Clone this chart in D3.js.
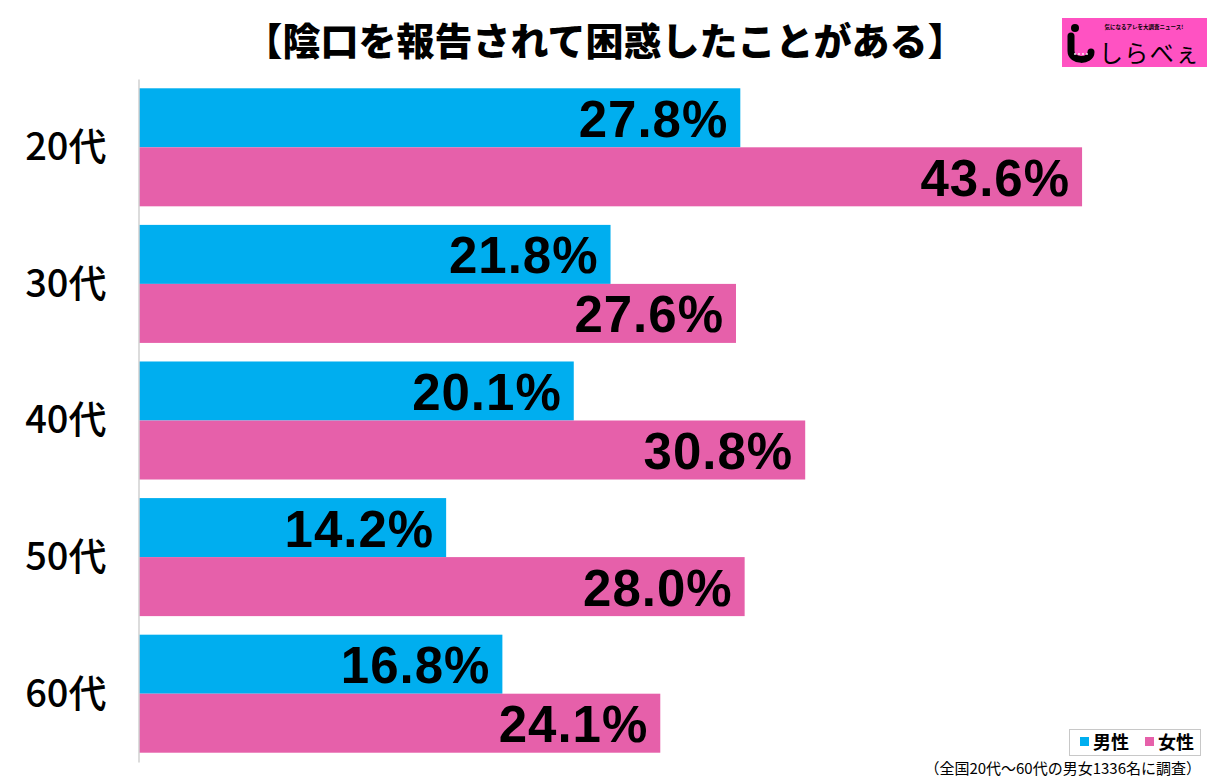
<!DOCTYPE html>
<html><head><meta charset="utf-8">
<script src="https://cdn.jsdelivr.net/npm/d3@7"></script>
<style>body{margin:0;background:#fff;}svg{display:block;}</style>
</head><body>
<svg id="c" width="1224" height="783"></svg>
<script>
const title = "【陰口を報告されて困惑したことがある】";
const categories = ["20代","30代","40代","50代","60代"];
const seriesNames = ["男性","女性"];
const maleValues = [27.8, 21.8, 20.1, 14.2, 16.8];
const femaleValues = [43.6, 27.6, 30.8, 28.0, 24.1];
const seriesColors = ["#00AEEF", "#E660AA"];
const footnote = "（全国20代～60代の男女1336名に調査）";

const svg = d3.select("#c");
const data = categories.map((c,i)=>({cat:c, vals:[maleValues[i], femaleValues[i]]}));

const x = d3.scaleLinear().domain([0,50]).range([139, 139 + 50*21.63]);
const y = d3.scaleBand().domain(categories).range([79, 762]).paddingInner(0.136).paddingOuter(0.068);
const ySub = d3.scaleBand().domain([0,1]).range([0, y.bandwidth()]);

// title
svg.append("text").attr("x", 605).attr("y", 55).attr("text-anchor","middle")
  .attr("font-family","'Noto Sans CJK JP'").attr("font-weight","900").attr("font-size",38)
  .attr("fill","#000").text(title);

// bars
const g = svg.append("g");
data.forEach(d=>{
  d.vals.forEach((v,j)=>{
    const top = y(d.cat) + ySub(j);
    g.append("rect").attr("x", x(0)).attr("y", top)
      .attr("width", x(v)-x(0)).attr("height", ySub.bandwidth())
      .attr("fill", seriesColors[j]);
    g.append("text").attr("x", x(v)-12).attr("y", top + ySub.bandwidth()/2 + 19)
      .attr("text-anchor","end").attr("font-family","'Liberation Sans', Arial, sans-serif")
      .attr("font-weight","bold").attr("font-size",51).attr("letter-spacing",1).attr("fill","#000")
      .text(v.toFixed(1) + "%");
  });
});

// axis
const yAxis = d3.axisLeft(y).tickSize(0).tickPadding(32);
const ax = svg.append("g").attr("transform",`translate(${138.5},0)`).call(yAxis);
ax.select(".domain").attr("stroke","#d0d0d0").attr("stroke-width",1.5);
ax.selectAll("text").attr("font-family","'Noto Sans CJK JP'").attr("font-size",38)
  .attr("font-weight","500").attr("fill","#000").attr("dy","0.34em");

// legend
const lg = svg.append("g");
lg.append("rect").attr("x",1069.5).attr("y",729.5).attr("width",131).attr("height",26)
  .attr("fill","#fff").attr("stroke","#c8c8c8").attr("stroke-width",1);
const lx = [1080, 1145];
seriesNames.forEach((n,i)=>{
  lg.append("rect").attr("x",lx[i]).attr("y",737).attr("width",9).attr("height",9).attr("fill",seriesColors[i]);
  lg.append("text").attr("x",lx[i]+13).attr("y",749).attr("font-family","'Noto Sans CJK JP'")
    .attr("font-weight","bold").attr("font-size",18).attr("fill","#000").text(n);
});

// footnote
svg.append("text").attr("x",1201).attr("y",774).attr("text-anchor","end")
  .attr("font-family","'Noto Sans CJK JP'").attr("font-size",15).attr("fill","#000").text(footnote);

// logo
const lo = svg.append("g");
lo.append("rect").attr("x",1062).attr("y",18).attr("width",145).attr("height",49).attr("fill","#FF52C2");
lo.append("circle").attr("cx",1075).attr("cy",28).attr("r",4).attr("fill","#000");
lo.append("path").attr("d","M1071,36 L1071,51 C1071,62 1091,62 1091,52")
  .attr("fill","none").attr("stroke","#000").attr("stroke-width",7).attr("stroke-linecap","round");
[1075,1079,1083,1087].forEach(cx=>lo.append("circle").attr("cx",cx).attr("cy",54).attr("r",0.9).attr("fill","#fff"));
lo.append("text").attr("x",1144).attr("y",29).attr("text-anchor","middle")
  .attr("font-family","'Noto Sans CJK JP'").attr("font-size",5.5).attr("font-weight","bold").attr("fill","#000")
  .text("気になるアレを大調査ニュース!");
lo.append("text").attr("x",1099).attr("y",62)
  .attr("font-family","'Noto Sans CJK JP'").attr("font-size",24).attr("fill","#000")
  .attr("textLength",100).text("しらべぇ");
</script>
</body></html>
